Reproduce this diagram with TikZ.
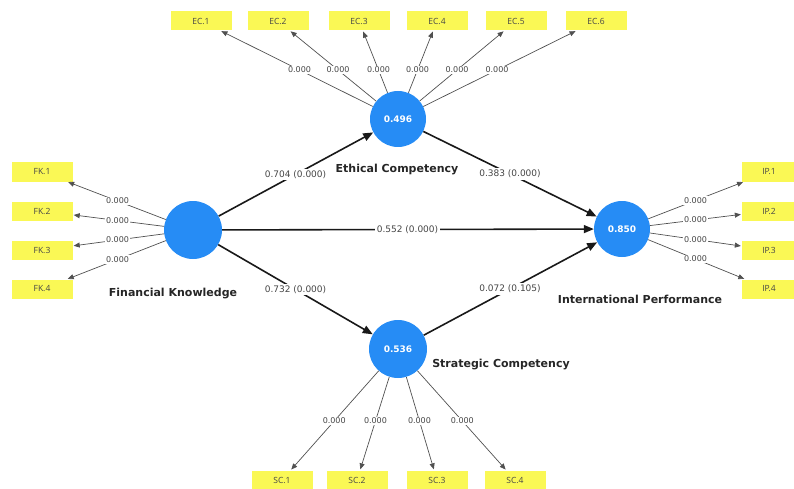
\documentclass[tikz,border=0pt]{standalone}
\usepackage{fontspec}
\setmainfont{DejaVu Sans}
\newfontfamily\boxfont{Open Sans}
\usetikzlibrary{arrows.meta,calc}
\definecolor{lvblue}{RGB}{38,140,245}
\definecolor{indyel}{RGB}{250,248,85}
\definecolor{numgray}{RGB}{70,70,70}
\definecolor{linegray}{RGB}{80,80,80}
\tikzset{
  lv/.style={circle,fill=lvblue,draw=none,minimum size=58pt,inner sep=0pt,text=white,font=\fontsize{9}{10}\selectfont\bfseries},
  ind/.style={rectangle,fill=indyel,draw=none,minimum width=61pt,minimum height=19pt,inner sep=0pt,text=numgray,font=\boxfont\fontsize{8.5}{9}\selectfont},
  lvname/.style={font=\fontsize{11}{12}\selectfont\bfseries,text=black!85},
  meas/.style={draw=linegray,line width=0.7pt,-{Triangle[length=6pt,width=5pt]},shorten >=1pt},
  struct/.style={draw=black!90,line width=1.6pt,-{Triangle[length=10pt,width=8pt]}},
  wt/.style={fill=white,inner sep=1pt,text=numgray,font=\fontsize{8}{9}\selectfont},
  pc/.style={fill=white,inner sep=1.5pt,text=numgray,font=\fontsize{9}{10}\selectfont}
}
\begin{document}
\begin{tikzpicture}[x=1pt,y=-1pt]
\useasboundingbox (0,0) rectangle (794,489);
% latent variables
\node[lv] (FK) at (193,230) {};
\node[lv,minimum size=56pt] (EC) at (398,119) {0.496};
\node[lv,minimum size=56pt] (IP) at (622,229) {0.850};
\node[lv] (SC) at (398,349) {0.536};
% names
\node[lvname] (fkname) at (173,294) {Financial Knowledge};
\node[lvname] (ecname) at (397,170) {Ethical Competency};
\node[lvname] (ipname) at (640,299) {International Performance};
\node[lvname] (scname) at (501,365) {Strategic Competency};
% indicators
\node[ind] (ec1) at (201,21) {EC.1};
\node[ind] (ec2) at (278,21) {EC.2};
\node[ind] (ec3) at (359,21) {EC.3};
\node[ind] (ec4) at (437,21) {EC.4};
\node[ind] (ec5) at (516,21) {EC.5};
\node[ind] (ec6) at (596,21) {EC.6};
\node[ind] (fk1) at (42,172) {FK.1};
\node[ind] (fk2) at (42,211) {FK.2};
\node[ind] (fk3) at (42,250) {FK.3};
\node[ind] (fk4) at (42,289) {FK.4};
\node[ind,minimum width=54pt] (ip1) at (769,172) {IP.1};
\node[ind,minimum width=54pt] (ip2) at (769,211) {IP.2};
\node[ind,minimum width=54pt] (ip3) at (769,250) {IP.3};
\node[ind,minimum width=54pt] (ip4) at (769,289) {IP.4};
\node[ind] (sc1) at (282,480) {SC.1};
\node[ind] (sc2) at (357,480) {SC.2};
\node[ind] (sc3) at (437,480) {SC.3};
\node[ind] (sc4) at (515,480) {SC.4};
% measurement paths
\foreach \i in {ec1,ec2,ec3,ec4,ec5,ec6}{
  \draw[meas] (EC) -- (\i);
  \node[wt] at ($(EC)!0.5!(\i)$) {0.000};
}
\foreach \i in {fk1,fk2,fk3,fk4}{
  \draw[meas] (FK) -- (\i);
  \node[wt] at ($(FK)!0.5!(\i)$) {0.000};
}
\foreach \i in {ip1,ip2,ip3,ip4}{
  \draw[meas] (IP) -- (\i);
  \node[wt] at ($(IP)!0.5!(\i)$) {0.000};
}
\foreach \i in {sc1,sc2,sc3,sc4}{
  \draw[meas] (SC) -- (\i);
  \node[wt] at ($(SC)!0.55!(\i)$) {0.000};
}
% structural paths
\draw[struct] (FK) -- (EC);
\node[pc] at ($(FK)!0.5!(EC)$) {0.704 (0.000)};
\draw[struct] (EC) -- (IP);
\node[pc] at ($(EC)!0.5!(IP)$) {0.383 (0.000)};
\draw[struct] (FK) -- (IP);
\node[pc] at ($(FK)!0.5!(IP)$) {0.552 (0.000)};
\draw[struct] (FK) -- (SC);
\node[pc] at ($(FK)!0.5!(SC)$) {0.732 (0.000)};
\draw[struct] (SC) -- (IP);
\node[pc] at ($(SC)!0.5!(IP)$) {0.072 (0.105)};
\end{tikzpicture}
\end{document}
